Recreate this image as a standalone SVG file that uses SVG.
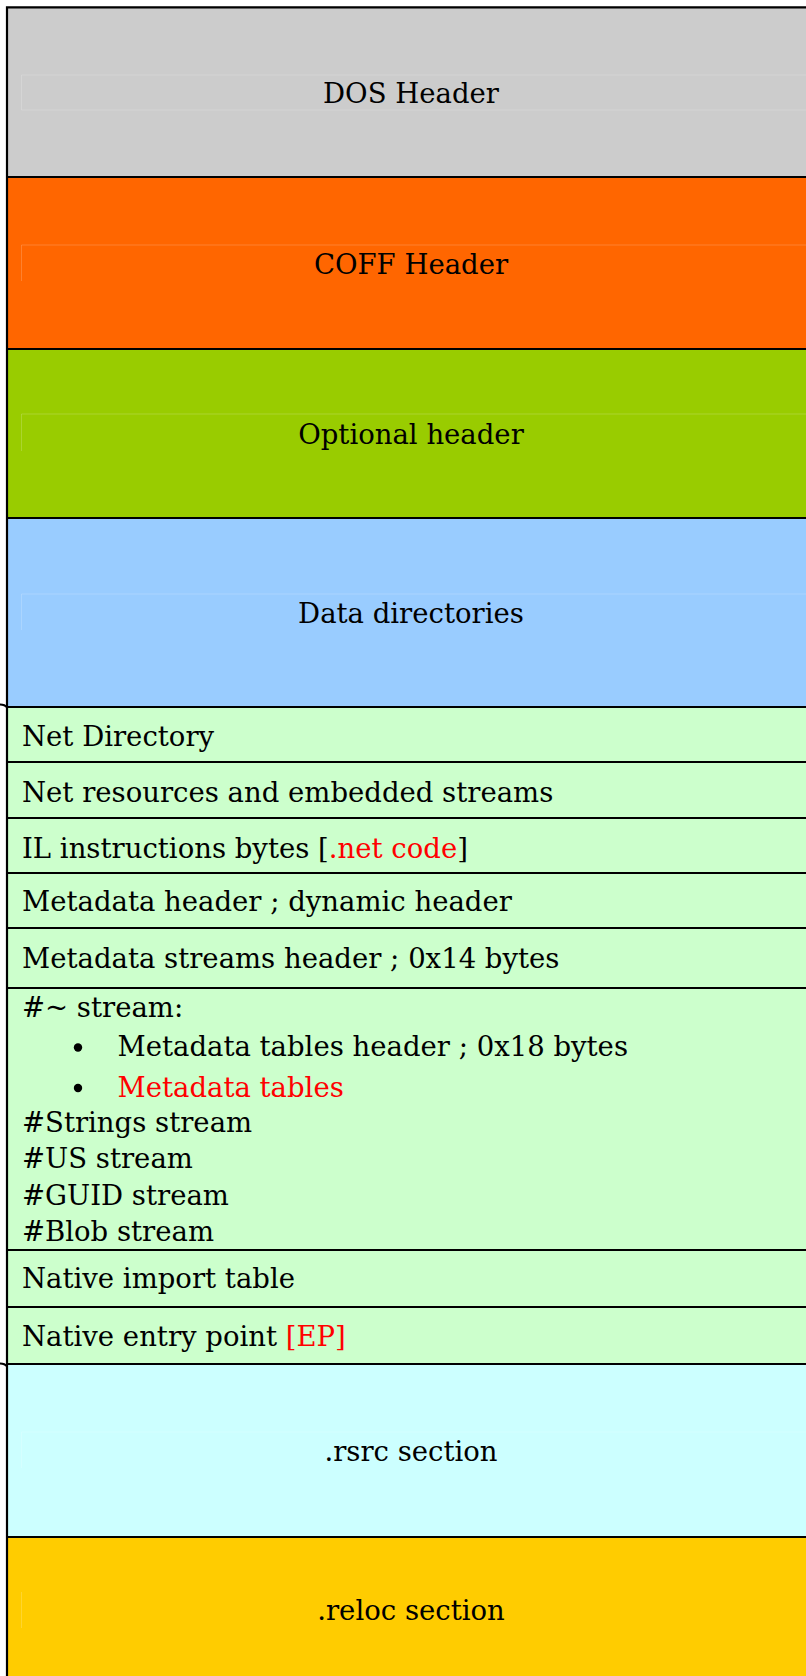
<svg xmlns="http://www.w3.org/2000/svg" width="806" height="1676" viewBox="0 0 806 1676">
  <style>
    .t { font-family: "DejaVu Serif", "Liberation Serif", serif; font-size: 27.5px; fill: #000; }
    .c { text-anchor: middle; }
    .red { fill: #FF0000; }
    .sep { stroke: #000; stroke-width: 2.2; fill: none; }
    .frame { stroke: #FFFFFF; stroke-opacity: 0.18; stroke-width: 1; fill: none; }
    .tick { stroke: #000; stroke-width: 2; fill: none; }
  </style>

  <rect width="806" height="1676" fill="#FFFFFF"/>

  <!-- PE header blocks -->
  <g id="dos-header">
    <rect x="7" y="7" width="799" height="170" fill="#CCCCCC"/>
    <path class="frame" d="M806,110 H21.5 V75 H806"/>
    <text class="t c" x="411" y="103">DOS Header</text>
  </g>
  <g id="coff-header">
    <rect x="7" y="177" width="799" height="172" fill="#FF6600"/>
    <path class="frame" d="M21.5,281 V245 H806"/>
    <text class="t c" x="411" y="274">COFF Header</text>
  </g>
  <g id="optional-header">
    <rect x="7" y="349" width="799" height="169" fill="#99CC00"/>
    <path class="frame" d="M21.5,451 V414 H806"/>
    <text class="t c" x="411" y="444">Optional header</text>
  </g>
  <g id="data-directories">
    <rect x="7" y="518" width="799" height="189" fill="#99CCFF"/>
    <path class="frame" d="M21.5,630 V594 H806"/>
    <text class="t c" x="411" y="623">Data directories</text>
  </g>

  <!-- .text section contents -->
  <g id="net-directory">
    <rect x="7" y="707" width="799" height="55" fill="#CCFFCC"/>
    <text class="t" x="22" y="745.5">Net Directory</text>
  </g>
  <g id="net-resources">
    <rect x="7" y="762" width="799" height="56" fill="#CCFFCC"/>
    <text class="t" x="22" y="801.5">Net resources and embedded streams</text>
  </g>
  <g id="il-code">
    <rect x="7" y="818" width="799" height="55" fill="#CCFFCC"/>
    <text class="t" x="22" y="858">IL instructions bytes [<tspan class="red">.net code</tspan>]</text>
  </g>
  <g id="metadata-header">
    <rect x="7" y="873" width="799" height="55" fill="#CCFFCC"/>
    <text class="t" x="22" y="911">Metadata header ; dynamic header</text>
  </g>
  <g id="metadata-streams-header">
    <rect x="7" y="928" width="799" height="60" fill="#CCFFCC"/>
    <text class="t" x="22" y="968">Metadata streams header ; 0x14 bytes</text>
  </g>
  <g id="metadata-streams">
    <rect x="7" y="988" width="799" height="262" fill="#CCFFCC"/>
    <text class="t" x="22" y="1017">#~ stream:</text>
    <circle cx="78" cy="1047.5" r="4.2" fill="#000"/>
    <text class="t" x="117.5" y="1056">Metadata tables header ; 0x18 bytes</text>
    <circle cx="78" cy="1088" r="4.2" fill="#000"/>
    <text class="t red" x="117.5" y="1096.5">Metadata tables</text>
    <text class="t" x="22" y="1131.5">#Strings stream</text>
    <text class="t" x="22" y="1168">#US stream</text>
    <text class="t" x="22" y="1204.5">#GUID stream</text>
    <text class="t" x="22" y="1241">#Blob stream</text>
  </g>
  <g id="native-import-table">
    <rect x="7" y="1250" width="799" height="57" fill="#CCFFCC"/>
    <text class="t" x="22" y="1288">Native import table</text>
  </g>
  <g id="native-entry-point">
    <rect x="7" y="1307" width="799" height="57" fill="#CCFFCC"/>
    <text class="t" x="22" y="1345.5">Native entry point <tspan class="red">[EP]</tspan></text>
  </g>

  <!-- remaining sections -->
  <g id="rsrc-section">
    <rect x="7" y="1364" width="799" height="173" fill="#CCFFFF"/>
    <path class="frame" d="M21.5,1468 V1432 H806"/>
    <text class="t c" x="411" y="1461">.rsrc section</text>
  </g>
  <g id="reloc-section">
    <rect x="7" y="1537" width="799" height="139" fill="#FFCC00"/>
    <path class="frame" d="M21.5,1628 V1592"/>
    <text class="t c" x="411" y="1620">.reloc section</text>
  </g>

  <!-- outline and row separators -->
  <g id="connectors">
    <path class="sep" d="M7,7.3 H806 M7,6.2 V1676"/>
    <path class="sep" d="M7,177 H806 M7,349 H806 M7,518 H806 M7,707 H806 M7,762 H806 M7,818 H806 M7,873 H806 M7,928 H806 M7,988 H806 M7,1250 H806 M7,1307 H806 M7,1364 H806 M7,1537 H806"/>
    <path class="tick" d="M0,704.5 Q5,704.5 7,707.5"/>
    <path class="tick" d="M0,1363.5 Q5,1363.5 7,1366.5"/>
  </g>
</svg>
